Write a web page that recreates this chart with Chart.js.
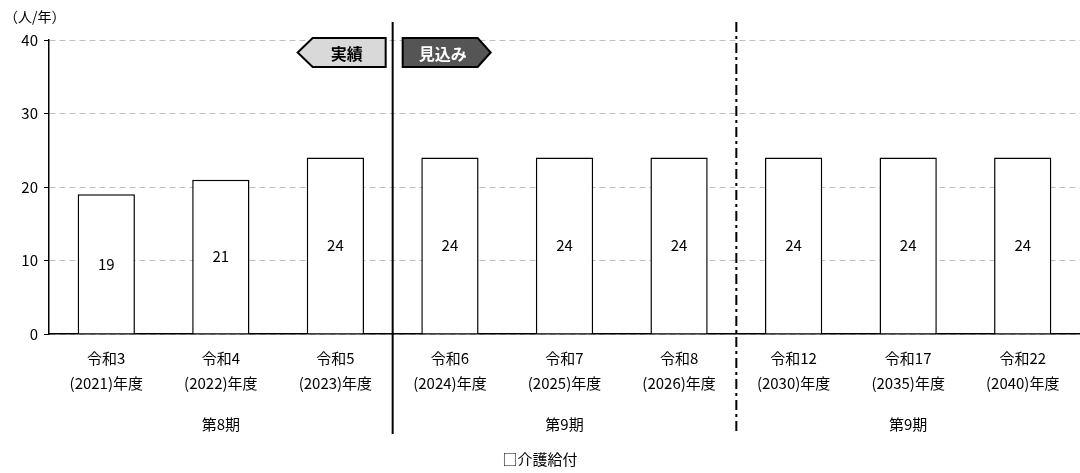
<!DOCTYPE html>
<html lang="ja">
<head>
<meta charset="utf-8">
<script src="https://cdn.jsdelivr.net/npm/chart.js@4/dist/chart.umd.min.js"></script>
<style>
  html, body { margin: 0; padding: 0; background: #fff; }
  #wrap { width: 1080px; height: 473px; }
</style>
</head>
<body>
<div id="wrap"><canvas id="chart" width="1080" height="473"></canvas></div>
<script>
// --- data ---
const eraLabels = ["令和3", "令和4", "令和5", "令和6", "令和7", "令和8", "令和12", "令和17", "令和22"];
const yearLabels = ["(2021)年度", "(2022)年度", "(2023)年度", "(2024)年度", "(2025)年度", "(2026)年度", "(2030)年度", "(2035)年度", "(2040)年度"];
const values = [19, 21, 24, 24, 24, 24, 24, 24, 24];
const periodNames = ["第8期", "第9期", "第9期"];
const periodSpans = [[0, 2], [3, 5], [6, 8]];
const yTicks = [0, 10, 20, 30, 40];

const FONT = '"Noto Sans CJK JP", "Noto Sans", sans-serif';

// extra drawing: data labels, dividers, tags, period names
const extras = {
  id: "extras",
  afterDatasetsDraw(chart) {
    const { ctx, chartArea } = chart;
    const x = chart.scales.x;
    const meta = chart.getDatasetMeta(0);

    ctx.save();
    // values inside bars
    ctx.fillStyle = "#000";
    ctx.font = "15px " + FONT;
    ctx.textAlign = "center";
    ctx.textBaseline = "middle";
    meta.data.forEach((bar, i) => {
      ctx.fillText(String(values[i]), bar.x, (bar.y + bar.base) / 2);
    });

    // dividers between periods
    const div1 = (x.getPixelForValue(2) + x.getPixelForValue(3)) / 2;
    const div2 = (x.getPixelForValue(5) + x.getPixelForValue(6)) / 2;
    ctx.strokeStyle = "#000";
    ctx.lineWidth = 2;
    ctx.beginPath();
    ctx.moveTo(div1, 22);
    ctx.lineTo(div1, chartArea.bottom + 100);
    ctx.stroke();
    ctx.setLineDash([10, 4, 3, 4]);
    ctx.beginPath();
    ctx.moveTo(div2, 22);
    ctx.lineTo(div2, chartArea.bottom + 98);
    ctx.stroke();
    ctx.setLineDash([]);

    // tags 実績 / 見込み
    const t = chartArea.top - 2, b = chartArea.top + 27, m = (t + b) / 2;
    ctx.lineWidth = 2;
    ctx.beginPath();
    ctx.moveTo(div1 - 95, m);
    ctx.lineTo(div1 - 80, t);
    ctx.lineTo(div1 - 7, t);
    ctx.lineTo(div1 - 7, b);
    ctx.lineTo(div1 - 80, b);
    ctx.closePath();
    ctx.fillStyle = "#d9d9d9";
    ctx.fill();
    ctx.stroke();
    ctx.beginPath();
    ctx.moveTo(div1 + 10, t);
    ctx.lineTo(div1 + 85, t);
    ctx.lineTo(div1 + 98, m);
    ctx.lineTo(div1 + 85, b);
    ctx.lineTo(div1 + 10, b);
    ctx.closePath();
    ctx.fillStyle = "#555";
    ctx.fill();
    ctx.stroke();
    ctx.font = "bold 16px " + FONT;
    ctx.fillStyle = "#000";
    ctx.fillText("実績", div1 - 46, m + 1);
    ctx.fillStyle = "#fff";
    ctx.fillText("見込み", div1 + 50, m + 1);

    // period names
    ctx.fillStyle = "#000";
    ctx.font = "15px " + FONT;
    periodSpans.forEach((s, i) => {
      const cx = (x.getPixelForValue(s[0]) + x.getPixelForValue(s[1])) / 2;
      ctx.fillText(periodNames[i], cx, chartArea.bottom + 90);
    });

    // unit label
    ctx.textAlign = "left";
    ctx.font = "14px " + FONT;
    ctx.fillText("（人/年）", 4, 17);
    ctx.restore();
  }
};

new Chart(document.getElementById("chart"), {
  type: "bar",
  data: {
    labels: eraLabels.map((e, i) => [e, yearLabels[i]]),
    datasets: [{
      data: values,
      backgroundColor: "#fff",
      borderColor: "#000",
      borderWidth: 1.5,
      barPercentage: 0.5,
      categoryPercentage: 1
    }]
  },
  options: {
    responsive: false,
    animation: false,
    layout: { padding: { top: 40, right: 0, bottom: 0, left: 0 } },
    plugins: {
      legend: { display: false },
      tooltip: { enabled: false },
      title: {
        display: true,
        position: "bottom",
        text: "□介護給付",
        color: "#000",
        font: { family: FONT, size: 15, weight: "normal" },
        padding: { top: 0, bottom: 5 }
      }
    },
    scales: {
      x: {
        grid: { display: false },
        border: { color: "#000", width: 1.5 },
        ticks: {
          color: "#000",
          font: { family: FONT, size: 15, lineHeight: 1.67 },
          padding: 4,
          maxRotation: 0,
          autoSkip: false
        },
        afterFit(scale) { scale.height = 116; }
      },
      y: {
        min: 0,
        max: 40,
        afterBuildTicks(scale) { scale.ticks = yTicks.map(v => ({ value: v })); },
        grid: {
          color: "#bfbfbf",
          lineWidth: 1,
          tickColor: "#000",
          tickLength: 5,
          tickBorderDash: [],
          drawTicks: true
        },
        border: { color: "#000", width: 1.5, dash: [6, 4] },
        ticks: {
          color: "#000",
          font: { family: FONT, size: 15 },
          padding: 6
        },
        afterFit(scale) { scale.width = 49; }
      }
    }
  },
  plugins: [extras]
});
</script>
</body>
</html>
